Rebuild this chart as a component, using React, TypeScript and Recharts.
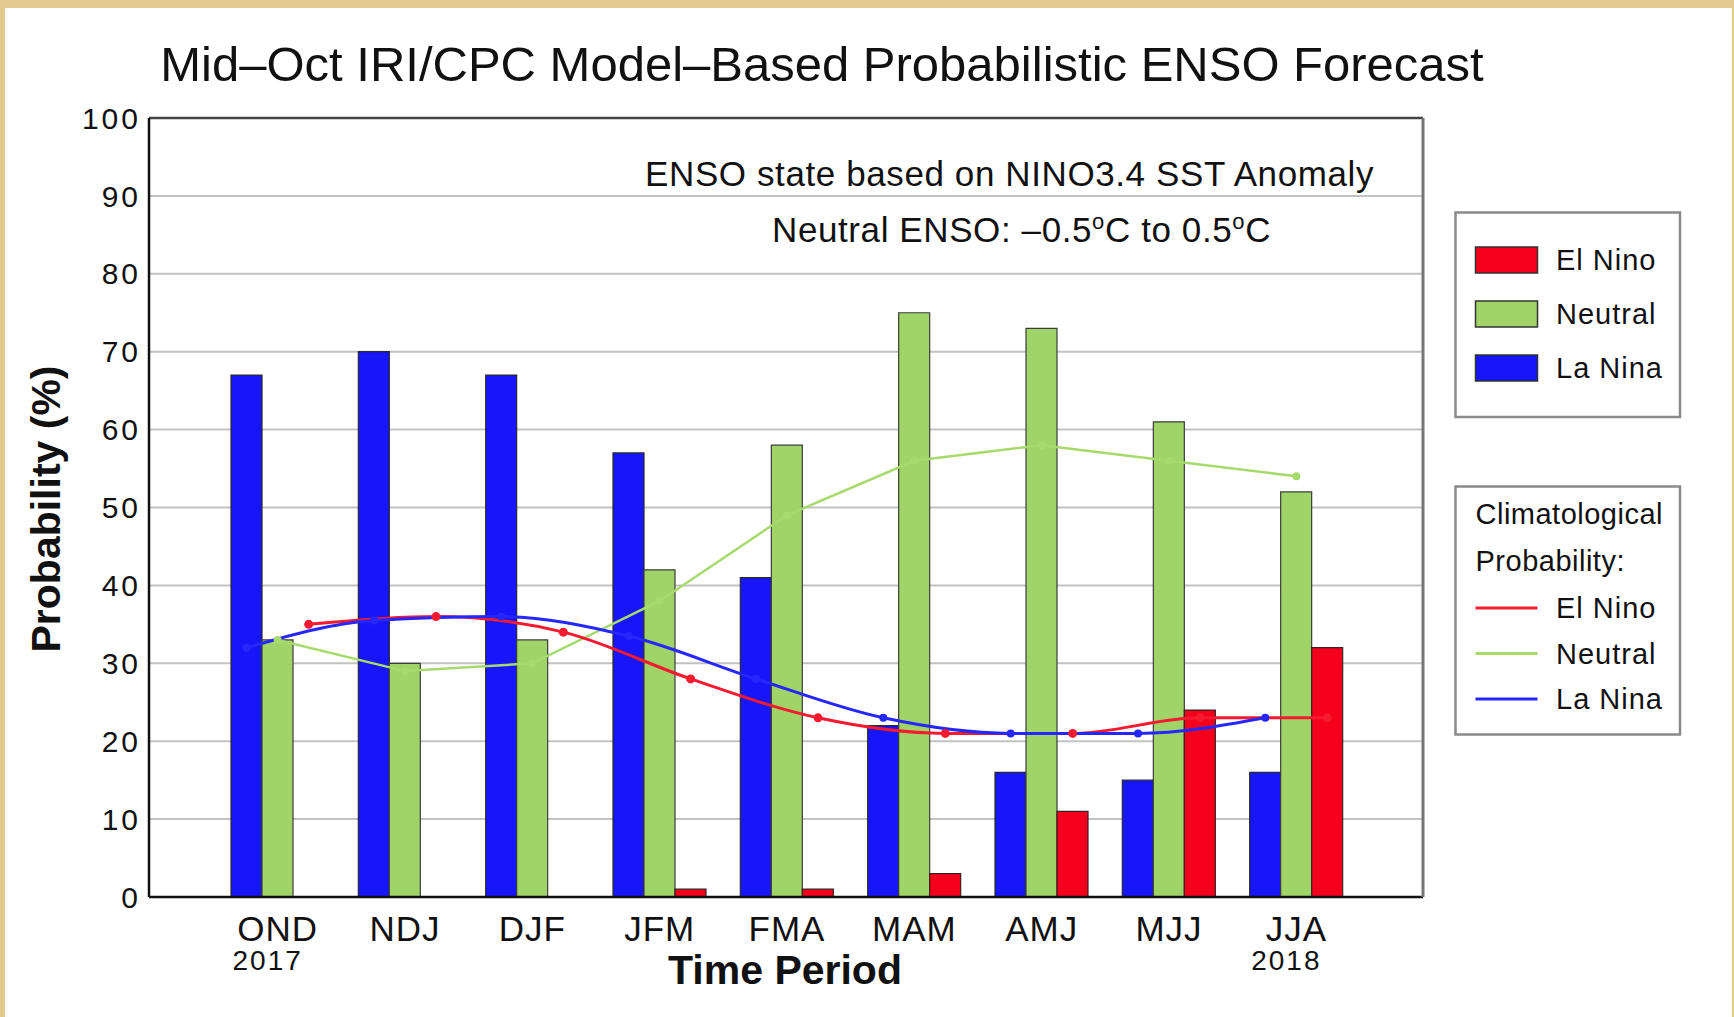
import React from "react";
import {
  ComposedChart, Bar, Line, XAxis, YAxis, CartesianGrid,
} from "recharts";

// Mid-Oct 2017 IRI/CPC ENSO forecast
const periods = ["OND", "NDJ", "DJF", "JFM", "FMA", "MAM", "AMJ", "MJJ", "JJA"];
const yearLabels = ["2017", "", "", "", "", "", "", "", "2018"];

// forecast probabilities (%)
const laNina = [67, 70, 67, 57, 41, 22, 16, 15, 16];
const neutral = [33, 30, 33, 42, 58, 75, 73, 61, 52];
const elNino = [0, 0, 0, 1, 1, 3, 11, 24, 32];

// climatological probabilities (%)
const climElNino = [35, 36, 34, 28, 23, 21, 21, 23, 23];
const climNeutral = [33, 29, 30, 38, 49, 56, 58, 56, 54];
const climLaNina = [32, 35.5, 36, 33.5, 28, 23, 21, 21, 23];

const yTicks = [0, 10, 20, 30, 40, 50, 60, 70, 80, 90, 100];

const RED = "#f5001c";
const GREEN = "#a0d468";
const BLUE = "#1616f8";
const FONT = "'Liberation Sans', Arial, Helvetica, sans-serif";

const series = [
  { name: "El Nino", bar: RED, line: "#f51a30" },
  { name: "Neutral", bar: GREEN, line: "#a6da6c" },
  { name: "La Nina", bar: BLUE, line: "#2626ff" },
];

const data = periods.map((p, i) => ({
  period: p,
  laNina: laNina[i],
  neutral: neutral[i],
  elNino: elNino[i],
  climEl: climElNino[i],
  climNeu: climNeutral[i],
  climLa: climLaNina[i],
}));

const BAR = 31;
const PAD_L = 65;
const PAD_R = 63;

function PeriodTick(props: any) {
  const { x, y, payload } = props;
  const i = periods.indexOf(payload.value);
  return (
    <g>
      <text x={x} y={y + 44} textAnchor="middle" fontSize={35} letterSpacing={1}
        fontFamily={FONT} fill="#111">{payload.value}</text>
      {yearLabels[i] && (
        <text x={x - 10} y={y + 73} textAnchor="middle" fontSize={28}
          letterSpacing={2} fontFamily={FONT} fill="#111">{yearLabels[i]}</text>
      )}
    </g>
  );
}

function Deg() {
  return <tspan fontSize={22} dy={-13}>o</tspan>;
}

export default function App() {
  return (
    <div style={{ position: "absolute", left: 0, top: 0, width: 1734, height: 1017, background: "#e4c98f", overflow: "hidden" }}>
      <div style={{ position: "absolute", left: 5, top: 8, width: 1727, height: 1009, background: "#fff" }} />
      <div style={{ position: "absolute", left: 0, top: 0 }}>
        <ComposedChart
          width={1734}
          height={1017}
          data={data}
          margin={{ top: 117, right: 310, bottom: 0, left: 0 }}
          barGap={0}
          barSize={BAR}
        >
          <CartesianGrid xAxisId="main" horizontal vertical={false} stroke="#c2c2c2" strokeWidth={2} />
          <XAxis
            xAxisId="main"
            dataKey="period"
            height={120}
            padding={{ left: PAD_L, right: PAD_R }}
            tickLine={false}
            tickSize={0}
            tickMargin={0}
            axisLine={{ stroke: "#111", strokeWidth: 2.5 }}
            tick={<PeriodTick />}
            interval={0}
          />
          <XAxis xAxisId="el" dataKey="period" hide height={0} padding={{ left: PAD_L + BAR, right: PAD_R - BAR }} />
          <XAxis xAxisId="la" dataKey="period" hide height={0} padding={{ left: PAD_L - BAR, right: PAD_R + BAR }} />
          <XAxis xAxisId="top" dataKey="period" orientation="top" height={1} tick={false} tickLine={false}
            padding={{ left: PAD_L, right: PAD_R }}
            axisLine={{ stroke: "#444", strokeWidth: 2.5 }} />
          <YAxis
            domain={[0, 100]}
            ticks={yTicks}
            width={149}
            tickLine={false}
            tickSize={0}
            tickMargin={8}
            interval={0}
            axisLine={{ stroke: "#111", strokeWidth: 2.5 }}
            tick={{ fill: "#111", fontSize: 30, letterSpacing: 3, fontFamily: FONT }}
          />
          <YAxis yAxisId="r" orientation="right" domain={[0, 100]} ticks={yTicks} width={1} tick={false} tickLine={false}
            axisLine={{ stroke: "#777", strokeWidth: 3 }} />

          <Bar xAxisId="main" dataKey="laNina" fill={BLUE} stroke="#2a2a2a" strokeWidth={1.2} isAnimationActive={false} />
          <Bar xAxisId="main" dataKey="neutral" fill={GREEN} stroke="#3c3c3c" strokeWidth={1.2} isAnimationActive={false} />
          <Bar xAxisId="main" dataKey="elNino" fill={RED} stroke="#3a2020" strokeWidth={1.2} isAnimationActive={false} />

          {/* neutral climatology sits on the top/right axes so the plot frame gets drawn */}
          <Line xAxisId="top" yAxisId="r" dataKey="climNeu" type="linear" stroke={series[1].line} strokeWidth={2.5}
            dot={{ r: 4, fill: series[1].line, stroke: "none" }} activeDot={false} isAnimationActive={false} />
          <Line xAxisId="el" dataKey="climEl" type="monotone" stroke={series[0].line} strokeWidth={3}
            dot={{ r: 4.5, fill: series[0].line, stroke: "none" }} activeDot={false} isAnimationActive={false} />
          <Line xAxisId="la" dataKey="climLa" type="monotone" stroke={series[2].line} strokeWidth={3}
            dot={{ r: 4, fill: series[2].line, stroke: "none" }} activeDot={false} isAnimationActive={false} />
        </ComposedChart>
      </div>

      <svg width={1734} height={1017} style={{ position: "absolute", left: 0, top: 0, pointerEvents: "none" }}
        fontFamily={FONT} fill="#111">
        <text x={822} y={81} textAnchor="middle" fontSize={49}>
          Mid–Oct IRI/CPC Model–Based Probabilistic ENSO Forecast
        </text>
        <text x={1374} y={186} textAnchor="end" fontSize={35} letterSpacing={0.6}>
          ENSO state based on NINO3.4 SST Anomaly
        </text>
        <text x={772} y={242} fontSize={35} letterSpacing={0.6}>
          Neutral ENSO: –0.5<Deg /><tspan dy={13}>C to 0.5</tspan><Deg /><tspan dy={13}>C</tspan>
        </text>

        <text transform="translate(60,509) rotate(-90)" textAnchor="middle" fontSize={41} fontWeight="bold">
          Probability (%)
        </text>
        <text x={785} y={984} textAnchor="middle" fontSize={41} fontWeight="bold">Time Period</text>

        <rect x={1455.5} y={212.5} width={224.5} height={204.5} fill="#fff" stroke="#8a8a8a" strokeWidth={2.5} />
        {series.map((s, i) => (
          <g key={s.name}>
            <rect x={1475.5} y={247 + i * 54} width={62} height={26} fill={s.bar} stroke="#333" strokeWidth={1.5} />
            <text x={1556} y={270 + i * 54} fontSize={29} letterSpacing={1}>{s.name}</text>
          </g>
        ))}

        <rect x={1455.5} y={486.5} width={224.5} height={248} fill="#fff" stroke="#8a8a8a" strokeWidth={2.5} />
        <text x={1475.5} y={524} fontSize={29} letterSpacing={0.5}>Climatological</text>
        <text x={1475.5} y={571} fontSize={29} letterSpacing={0.5}>Probability:</text>
        {series.map((s, i) => (
          <g key={"c" + s.name}>
            <line x1={1475.5} x2={1537.5} y1={608 + i * 45.5} y2={608 + i * 45.5} stroke={s.line} strokeWidth={3} />
            <text x={1556} y={618 + i * 45.5} fontSize={29} letterSpacing={1}>{s.name}</text>
          </g>
        ))}
      </svg>
    </div>
  );
}
